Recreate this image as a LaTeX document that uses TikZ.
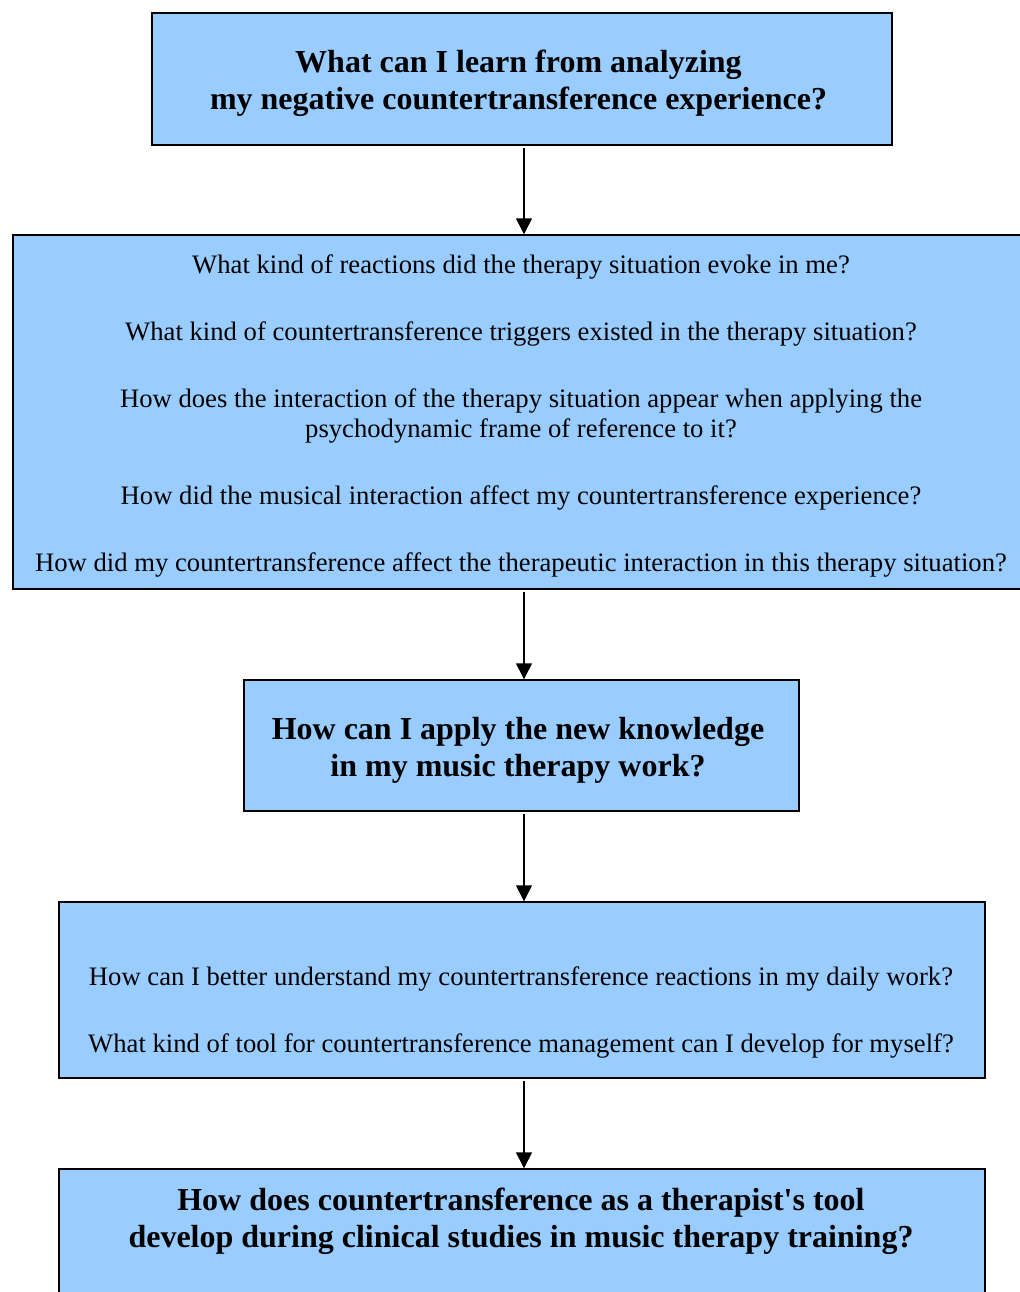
\documentclass[tikz,border=0pt]{standalone}
\usepackage{fontspec}
\setmainfont{Liberation Serif}
\usetikzlibrary{arrows.meta}
\definecolor{boxblue}{HTML}{99CCFF}
\begin{document}
\begin{tikzpicture}[x=0.75pt,y=-0.75pt,
  box/.style={draw=black, line width=1.1pt, fill=boxblue, inner sep=0pt, rectangle},
  headtext/.style={align=center, font=\fontsize{24}{27.75}\selectfont\bfseries, inner sep=0pt},
  qtext/.style={align=center, font=\fontsize{20}{22.5}\selectfont, inner sep=0pt},
  arr/.style={line width=1.1pt, -{Triangle[width=12pt,length=12pt]}, shorten <=1.5pt}]
\useasboundingbox (0,0) rectangle (1020,1292);

% boxes
\node[box, minimum width=555pt, minimum height=99pt] (b1) at (522,79) {};
\node[box, minimum width=770.25pt, minimum height=265.5pt] (b2) at (526.5,412) {};
\node[box, minimum width=416.25pt, minimum height=98.25pt] (b3) at (521.5,745.5) {};
\node[box, minimum width=694.5pt, minimum height=132pt] (b4) at (522,990) {};
\node[box, minimum width=694.5pt, minimum height=105.75pt] (b5) at (522,1239.5) {};

% texts
\node[headtext] (t1) at (518.5,83) {What can I learn from analyzing\\my negative countertransference experience?};
\node[qtext] (t2) at (521,416) {What kind of reactions did the therapy situation evoke in me?\\[27.75pt]
What kind of countertransference triggers existed in the therapy situation?\\[27.75pt]
How does the interaction of the therapy situation appear when applying the\\
psychodynamic frame of reference to it?\\[27.75pt]
How did the musical interaction affect my countertransference experience?\\[27.75pt]
How did my countertransference affect the therapeutic interaction in this therapy situation?};
\node[headtext] (t3) at (518,750) {How can I apply the new knowledge\\in my music therapy work?};
\node[qtext] (t4) at (521,1012.5) {How can I better understand my countertransference reactions in my daily work?\\[27.75pt]
What kind of tool for countertransference management can I develop for myself?};
\node[headtext] (t5) at (521,1221.5) {How does countertransference as a therapist\textquotesingle s tool\\develop during clinical studies in music therapy training?};

% connectors
\coordinate (ax) at (524,0);
\draw[arr] (ax |- b1.south) -- (ax |- b2.north);
\draw[arr] (ax |- b2.south) -- (ax |- b3.north);
\draw[arr] (ax |- b3.south) -- (ax |- b4.north);
\draw[arr] (ax |- b4.south) -- (ax |- b5.north);
\end{tikzpicture}
\end{document}
